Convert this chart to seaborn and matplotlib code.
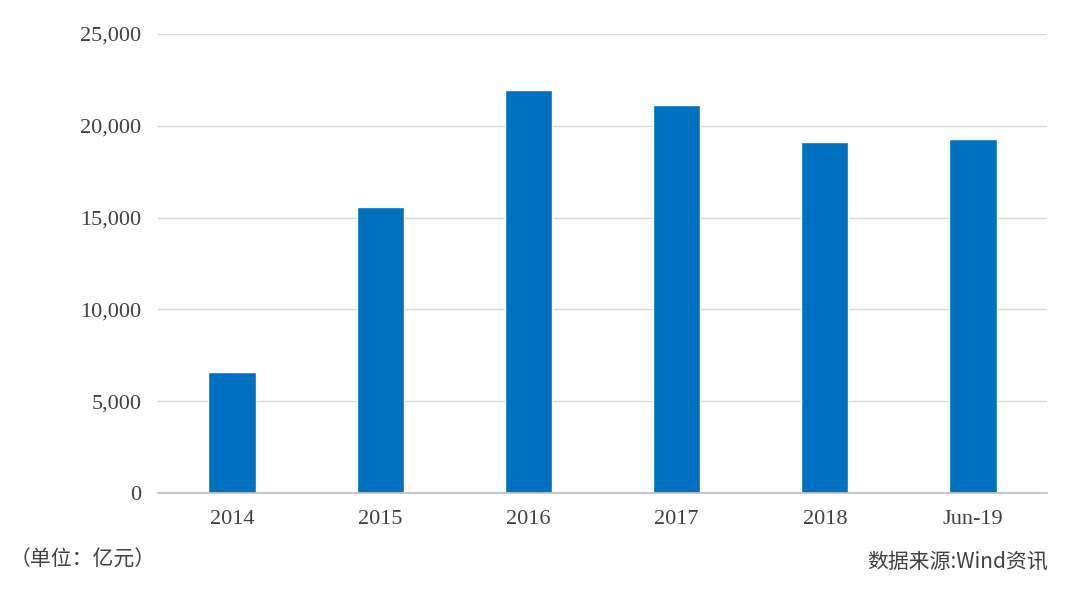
import matplotlib
matplotlib.use("Agg")
import matplotlib.pyplot as plt
import seaborn as sns
import pandas as pd
from matplotlib.ticker import FuncFormatter

# data
categories = ["2014", "2015", "2016", "2017", "2018", "Jun-19"]
values = [6590, 15580, 21950, 21130, 19120, 19280]

sns.set_theme(style="white")
plt.rcParams['font.family'] = ['Liberation Serif', 'Noto Sans CJK SC', 'DejaVu Sans']

df = pd.DataFrame({"cat": categories, "val": values})

fig = plt.figure(figsize=(10.8, 6.03), dpi=100)
ax = fig.add_axes([158 / 1080, 1 - 493 / 603, (1047 - 158) / 1080, (493 - 34) / 603])
sns.barplot(data=df, x="cat", y="val", color="#0070C0", width=0.32, saturation=1, ax=ax)

ax.set_ylim(0, 25000)
ax.set_yticks(range(0, 25001, 5000))
ax.yaxis.set_major_formatter(FuncFormatter(lambda v, p: f"{int(v):,}"))
ax.grid(axis="y", color="#D9D9D9", linewidth=1)
ax.set_axisbelow(True)
for s in ["top", "right", "left"]:
    ax.spines[s].set_visible(False)
ax.spines["bottom"].set_color("#BFBFBF")
ax.set_xlabel("")
ax.set_ylabel("")
ax.tick_params(axis="both", labelsize=16, colors="#404040", length=0, pad=12)

fig.text(10 / 1080, 1 - 560 / 603, "（单位：亿元）", fontsize=15, color="#404040",
         family=['Noto Sans CJK SC', 'DejaVu Sans'], va="center")
fig.text(1048 / 1080, 1 - 562 / 603, "数据来源:Wind资讯", fontsize=15, color="#404040",
         family=['Noto Sans CJK SC', 'DejaVu Sans'], va="center", ha="right")

fig.savefig("out.png", dpi=100)
